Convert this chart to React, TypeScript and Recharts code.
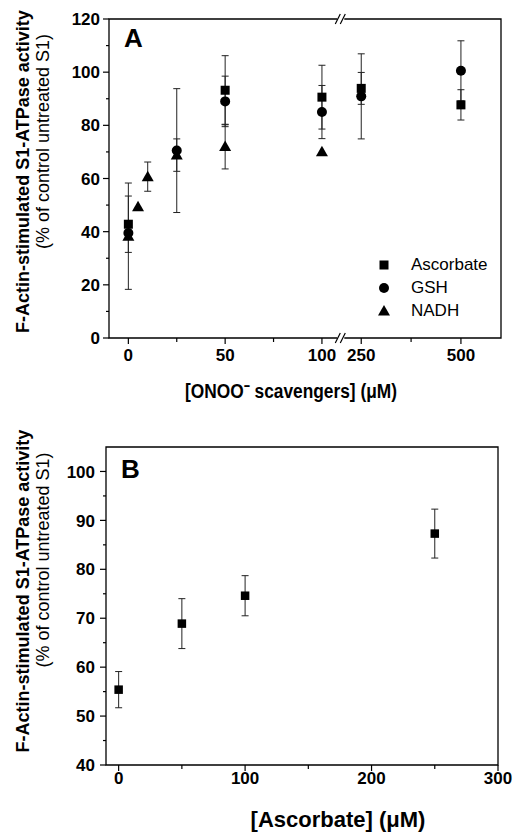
import React from "react";
import {
  ScatterChart,
  Scatter,
  XAxis,
  YAxis,
  ErrorBar,
  ReferenceArea,
  ReferenceDot,
  Legend,
} from "recharts";

const FONT = '"Liberation Sans", Arial, Helvetica, sans-serif';
const INK = "#000";

// panel A – ONOO- scavengers (µM), axis broken between 100 and 250
const ascX = [0, 50, 100, 250, 500];
const ascY = [42.8, 93.2, 90.6, 93.9, 87.7];
const ascErr = [10.6, 13, 12, 6, 5.7];

const gshX = [0, 25, 50, 100, 250, 500];
const gshY = [39.5, 70.5, 89, 85, 90.9, 100.5];
const gshErr = [0, 23.3, 9.5, 10, 16, 11.3];

const nadhX = [0, 5, 10, 25, 50, 100];
const nadhY = [38.3, 49.4, 60.7, 68.8, 72, 70.1];
const nadhErr = [20, 0, 5.5, 6.1, 8.4, 0];

const xTicksA = [0, 25, 50, 75, 100, 250, 375, 500];
const xLabelsA = ["0", "", "50", "", "100", "250", "", "500"];
const yTicksA = [0, 10, 20, 30, 40, 50, 60, 70, 80, 90, 100, 110, 120];

// panel B – ascorbate alone
const ascBX = [0, 50, 100, 250];
const ascBY = [55.4, 68.9, 74.6, 87.3];
const ascBErr = [3.7, 5.1, 4.1, 5];

const xTicksB = [0, 50, 100, 150, 200, 250, 300];
const yTicksB = [40, 45, 50, 55, 60, 65, 70, 75, 80, 85, 90, 95, 100];

// broken axis: 0..110 kept as is, 200..600 squeezed after the break
const BREAK_AT = 110;
const RESUME_AT = 200;
const SQUEEZE = 0.206;
const onAxisA = (v: number) => (v <= BREAK_AT ? v : BREAK_AT + (v - RESUME_AT) * SQUEEZE);

const rows = (xs: number[], ys: number[], es: number[], f = (v: number) => v) =>
  xs.map((x, i) => ({ x: f(x), y: ys[i], err: es[i] }));

const Square = ({ cx, cy, s = 9 }: any) => (
  <rect x={cx - s / 2} y={cy - s / 2} width={s} height={s} fill={INK} />
);
const Dot = ({ cx, cy }: any) => <circle cx={cx} cy={cy} r={5} fill={INK} />;
const Tri = ({ cx, cy }: any) => (
  <polygon points={`${cx},${cy - 6} ${cx + 6},${cy + 4.5} ${cx - 6},${cy + 4.5}`} fill={INK} />
);

const BreakMark = ({ cx, cy }: any) => (
  <g>
    <rect x={cx - 4} y={cy - 2} width={7} height={4} fill="#fff" />
    <line x1={cx - 6} y1={cy + 5} x2={cx - 1} y2={cy - 5} stroke={INK} strokeWidth={1.2} />
    <line x1={cx - 1} y1={cy + 5} x2={cx + 4} y2={cy - 5} stroke={INK} strokeWidth={1.2} />
  </g>
);

const bottomTick = (labels: string[], gap: number) => (p: any) => {
  const label = labels[p.index];
  return (
    <g>
      <line x1={p.x} x2={p.x} y1={p.y} y2={p.y + (label ? 6 : 4)} stroke={INK} strokeWidth={1.2} />
      {label ? (
        <text x={p.x} y={p.y + gap} textAnchor="middle" fontFamily={FONT} fontWeight="bold" fontSize={17} fill={INK}>
          {label}
        </text>
      ) : null}
    </g>
  );
};

const leftTick = (step: number, gap: number) => (p: any) => {
  const v = p.payload.value;
  const major = v % step === 0;
  return (
    <g>
      <line x1={p.x - (major ? 6 : 3)} x2={p.x} y1={p.y} y2={p.y} stroke={INK} strokeWidth={1.2} />
      {major ? (
        <text x={p.x - gap} y={p.y} dy="0.36em" textAnchor="end" fontFamily={FONT} fontWeight="bold" fontSize={17} fill={INK}>
          {v}
        </text>
      ) : null}
    </g>
  );
};

const yTitle = (boldDy: number, regDy: number) => ({ viewBox }: any) => {
  const mid = viewBox.y + viewBox.height / 2;
  return (
    <g fontFamily={FONT} fill={INK}>
      <text transform={`translate(29,${mid + boldDy}) rotate(-90)`} textAnchor="middle" fontWeight="bold" fontSize={18}>
        F-Actin-stimulated S1-ATPase activity
      </text>
      <text transform={`translate(49,${mid + regDy}) rotate(-90)`} textAnchor="middle" fontSize={18}>
        (% of control untreated S1)
      </text>
    </g>
  );
};

const markers: Record<string, any> = { square: Square, circle: Dot, triangle: Tri };

const LegendA = ({ payload }: any) => (
  <div style={{ fontFamily: FONT, fontSize: 17, color: INK }}>
    {(payload || []).map((e: any) => {
      const M = markers[e.type];
      return (
        <div key={e.value} style={{ display: "flex", alignItems: "center", height: 23 }}>
          <svg width={20} height={16}>
            <M cx={9} cy={8} />
          </svg>
          <span style={{ marginLeft: 16 }}>{e.value}</span>
        </div>
      );
    })}
  </div>
);

function PanelA() {
  const domX: [number, number] = [-10, 192.5];
  return (
    <ScatterChart width={514} height={420} margin={{ top: 19, right: 13, bottom: 0, left: 0 }}>
      <XAxis
        type="number"
        dataKey="x"
        domain={domX}
        ticks={xTicksA.map(onAxisA)}
        interval={0}
        axisLine={false}
        tickLine={false}
        tickSize={0}
        tickMargin={0}
        height={82}
        tick={bottomTick(xLabelsA, 23)}
        label={{
          content: ({ viewBox }: any) => (
            <text
              x={viewBox.x + viewBox.width / 2 - 14}
              y={viewBox.y + 60}
              textAnchor="middle"
              fontFamily={FONT}
              fontWeight="bold"
              fontSize={20}
              fill={INK}
              textLength={212}
              lengthAdjust="spacingAndGlyphs"
            >
              [ONOO⁻ scavengers] (μM)
            </text>
          ),
        }}
      />
      <YAxis
        type="number"
        dataKey="y"
        domain={[0, 120]}
        ticks={yTicksA}
        interval={0}
        axisLine={false}
        tickLine={false}
        tickSize={0}
        tickMargin={0}
        width={109}
        tick={leftTick(20, 9)}
        label={{ content: yTitle(-7, -37) }}
      />
      <ReferenceArea x1={domX[0]} x2={domX[1]} y1={0} y2={120} fill="none" stroke={INK} strokeWidth={1.3} ifOverflow="visible" />
      <ReferenceDot x={BREAK_AT} y={120} ifOverflow="visible" shape={(p: any) => <BreakMark cx={p.cx} cy={p.cy} />} />
      <ReferenceDot x={BREAK_AT} y={0} ifOverflow="visible" shape={(p: any) => <BreakMark cx={p.cx} cy={p.cy} />} />
      <ReferenceDot
        x={domX[0]}
        y={120}
        ifOverflow="visible"
        shape={(p: any) => (
          <text x={p.cx + 15} y={p.cy + 28} fontFamily={FONT} fontWeight="bold" fontSize={26} fill={INK}>
            A
          </text>
        )}
      />
      <Scatter name="Ascorbate" legendType="square" data={rows(ascX, ascY, ascErr, onAxisA)} shape={(p: any) => <Square cx={p.cx} cy={p.cy} />} isAnimationActive={false}>
        <ErrorBar dataKey="err" direction="y" width={3.5} stroke="#222" strokeWidth={1} />
      </Scatter>
      <Scatter name="GSH" legendType="circle" data={rows(gshX, gshY, gshErr, onAxisA)} shape={(p: any) => <Dot cx={p.cx} cy={p.cy} />} isAnimationActive={false}>
        <ErrorBar dataKey="err" direction="y" width={3.5} stroke="#222" strokeWidth={1} />
      </Scatter>
      <Scatter name="NADH" legendType="triangle" data={rows(nadhX, nadhY, nadhErr, onAxisA)} shape={(p: any) => <Tri cx={p.cx} cy={p.cy} />} isAnimationActive={false}>
        <ErrorBar dataKey="err" direction="y" width={3.5} stroke="#222" strokeWidth={1} />
      </Scatter>
      <Legend
        layout="vertical"
        align="center"
        verticalAlign="middle"
        content={LegendA}
        wrapperStyle={{ left: 375, top: 253, width: 130, height: 70 }}
      />
    </ScatterChart>
  );
}

function PanelB() {
  const domX: [number, number] = [-10, 300];
  return (
    <ScatterChart width={514} height={412} margin={{ top: 27, right: 16, bottom: 0, left: 0 }}>
      <XAxis
        type="number"
        dataKey="x"
        domain={domX}
        ticks={xTicksB}
        interval={0}
        axisLine={false}
        tickLine={false}
        tickSize={0}
        tickMargin={0}
        height={67}
        tick={bottomTick(xTicksB.map((v) => (v % 100 === 0 ? String(v) : "")), 19)}
        label={{
          content: ({ viewBox }: any) => (
            <text
              x={viewBox.x + viewBox.width / 2 + 36}
              y={viewBox.y + 62}
              textAnchor="middle"
              fontFamily={FONT}
              fontWeight="bold"
              fontSize={22}
              fill={INK}
            >
              [Ascorbate] (μM)
            </text>
          ),
        }}
      />
      <YAxis
        type="number"
        dataKey="y"
        domain={[40, 105]}
        ticks={yTicksB}
        interval={0}
        axisLine={false}
        tickLine={false}
        tickSize={0}
        tickMargin={0}
        width={106}
        tick={leftTick(10, 11)}
        label={{ content: yTitle(-15, -46) }}
      />
      <ReferenceArea x1={domX[0]} x2={domX[1]} y1={40} y2={105} fill="none" stroke={INK} strokeWidth={1.3} ifOverflow="visible" />
      <ReferenceDot
        x={domX[0]}
        y={105}
        ifOverflow="visible"
        shape={(p: any) => (
          <text x={p.cx + 15} y={p.cy + 31} fontFamily={FONT} fontWeight="bold" fontSize={26} fill={INK}>
            B
          </text>
        )}
      />
      <Scatter name="Ascorbate" data={rows(ascBX, ascBY, ascBErr)} shape={(p: any) => <Square cx={p.cx} cy={p.cy} s={8.5} />} isAnimationActive={false}>
        <ErrorBar dataKey="err" direction="y" width={3.5} stroke="#222" strokeWidth={1} />
      </Scatter>
    </ScatterChart>
  );
}

export default function App() {
  return (
    <div style={{ position: "absolute", left: 0, top: 0, width: 514, height: 832, background: "#fff" }}>
      <PanelA />
      <PanelB />
    </div>
  );
}
